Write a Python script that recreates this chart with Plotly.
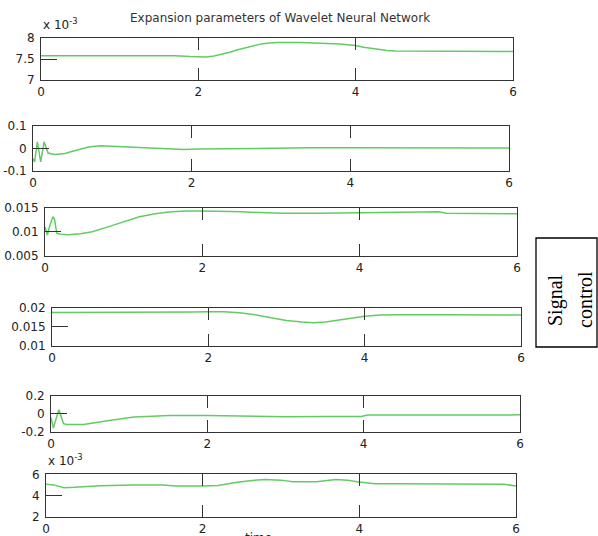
import plotly.graph_objects as go

W, H = 598, 536

# ---------------- data ----------------
t1 = [0, 0.5, 1.0, 1.5, 1.7, 1.9, 2.0, 2.1, 2.2, 2.3, 2.4, 2.5, 2.6, 2.7, 2.8, 2.9, 3.0, 3.3, 3.6, 3.8, 3.9, 4.0, 4.1, 4.2, 4.3, 4.4, 4.5, 5.0, 5.5, 6.0]
v1 = [7.58, 7.58, 7.58, 7.58, 7.58, 7.56, 7.55, 7.55, 7.57, 7.61, 7.66, 7.72, 7.77, 7.82, 7.86, 7.88, 7.89, 7.89, 7.88, 7.86, 7.84, 7.82, 7.78, 7.75, 7.72, 7.70, 7.69, 7.69, 7.69, 7.68]

t2 = [0, 0.02, 0.055, 0.097, 0.14, 0.19, 0.27, 0.4, 0.5, 0.6, 0.7, 0.85, 1.0, 1.3, 1.6, 1.9, 2.1, 2.5, 3.0, 3.5, 4.0, 4.5, 5.0, 5.5, 6.0]
v2 = [-0.045, -0.06, 0.03, -0.06, 0.03, -0.02, -0.027, -0.022, -0.012, -0.002, 0.007, 0.012, 0.01, 0.004, 0.0, -0.004, -0.002, 0.0, 0.002, 0.003, 0.003, 0.002, 0.002, 0.002, 0.002]

t3 = [0, 0.03, 0.06, 0.1, 0.12, 0.15, 0.2, 0.3, 0.45, 0.6, 0.8, 1.0, 1.2, 1.4, 1.6, 1.8, 2.0, 2.5, 3.0, 3.5, 4.0, 4.5, 5.0, 5.1, 5.5, 6.0]
v3 = [0.0110, 0.0093, 0.0112, 0.0131, 0.0126, 0.0097, 0.0095, 0.0094, 0.0096, 0.0100, 0.0110, 0.0121, 0.0131, 0.0137, 0.0141, 0.0143, 0.0143, 0.0141, 0.0138, 0.0138, 0.0139, 0.0141, 0.0141, 0.0138, 0.0137, 0.0137]

t4 = [0, 0.5, 1.0, 1.5, 1.8, 2.0, 2.2, 2.4, 2.6, 2.8, 3.0, 3.2, 3.35, 3.5, 3.7, 3.9, 4.0, 4.2, 4.4, 5.0, 5.5, 6.0]
v4 = [0.0187, 0.0187, 0.0187, 0.0187, 0.0188, 0.0189, 0.0189, 0.0186, 0.0181, 0.0173, 0.0166, 0.0162, 0.0160, 0.0162, 0.0168, 0.0174, 0.0177, 0.0180, 0.0181, 0.0181, 0.0180, 0.0180]

t5 = [0, 0.03, 0.1, 0.16, 0.2, 0.42, 0.7, 1.06, 1.3, 1.5, 2.0, 2.3, 2.6, 3.0, 3.5, 3.97, 4.05, 4.5, 5.0, 5.5, 6.0]
v5 = [-0.04, -0.16, 0.045, -0.11, -0.12, -0.12, -0.08, -0.037, -0.027, -0.02, -0.02, -0.025, -0.033, -0.033, -0.032, -0.03, -0.015, -0.014, -0.014, -0.013, -0.013]

t6 = [0, 0.1, 0.23, 0.36, 0.7, 1.1, 1.5, 1.65, 2.0, 2.2, 2.4, 2.6, 2.8, 3.0, 3.15, 3.45, 3.7, 3.85, 3.97, 4.2, 4.5, 5.0, 5.5, 5.85, 6.0]
v6 = [5.06, 5.0, 4.74, 4.77, 4.93, 5.0, 4.98, 4.9, 4.89, 4.95, 5.2, 5.4, 5.5, 5.45, 5.3, 5.3, 5.5, 5.45, 5.3, 5.1, 5.1, 5.1, 5.1, 5.05, 4.9]

x_ticks = [0, 2, 4, 6]
y_ranges = [[7, 8], [-0.1, 0.1], [0.005, 0.015], [0.01, 0.02], [-0.2, 0.2], [2, 6]]
y_tickvals = [[7, 7.5, 8], [-0.1, 0, 0.1], [0.005, 0.01, 0.015], [0.01, 0.015, 0.02], [-0.2, 0, 0.2], [2, 4, 6]]
y_ticktext = [["7", "7.5", "8"], ["-0.1", "0", "0.1"], ["0.005", "0.01", "0.015"],
              ["0.01", "0.015", "0.02"], ["-0.2", "0", "0.2"], ["2", "4", "6"]]

series_t = [t1, t2, t3, t4, t5, t6]
series_v = [v1, v2, v3, v4, v5, v6]

# panel boxes in pixels: left, right, top, bottom
boxes = [(41, 513, 38, 80), (33, 509, 126, 171), (45, 517, 207.5, 256),
         (52, 521, 307.5, 345.5), (51, 520, 395.7, 431.7), (46, 516, 474.3, 516.7)]

AX = "#333333"
FONT = dict(family="DejaVu Sans, Liberation Sans, Arial", size=12, color="#222222")
GREEN = "#62cc62"

fig = go.Figure()
layout = dict(width=W, height=H, margin=dict(l=0, r=0, t=0, b=0),
              paper_bgcolor="white", plot_bgcolor="white", showlegend=False)

for i in range(6):
    n = "" if i == 0 else str(i + 1)
    l, r, tp, bt = boxes[i]
    fig.add_trace(go.Scatter(x=series_t[i], y=series_v[i], mode="lines",
                             line=dict(color=GREEN, width=1.5),
                             xaxis="x" + n, yaxis="y" + n, hoverinfo="skip"))
    layout["xaxis" + n] = dict(domain=[l / W, r / W], anchor="y" + n, range=[0, 6],
                               tickvals=x_ticks, ticktext=[str(v) for v in x_ticks],
                               showgrid=False, zeroline=False, showline=True, linecolor=AX,
                               linewidth=1, mirror="ticks", ticks="inside", ticklen=12,
                               tickwidth=1.3, tickcolor=AX, tickfont=FONT, automargin=False,
                               ticklabelstandoff=1)
    layout["yaxis" + n] = dict(domain=[1 - bt / H, 1 - tp / H], anchor="x" + n,
                               range=y_ranges[i], tickvals=y_tickvals[i], ticktext=y_ticktext[i],
                               showgrid=False, zeroline=False, showline=True, linecolor=AX,
                               linewidth=1, mirror=True, ticks="inside", ticklen=16,
                               tickwidth=1.3, tickcolor=AX, tickfont=FONT, automargin=False,
                               ticklabelstandoff=3)

annotations = [
    dict(text="Expansion parameters of Wavelet Neural Network", x=280 / W, y=1 - 18 / H,
         xref="paper", yref="paper", showarrow=False, xanchor="center", yanchor="middle",
         font=dict(family="DejaVu Sans, Liberation Sans, Arial", size=12, color="#333333")),
    dict(text="x 10<sup>-3</sup>", x=41 / W, y=1 - 34 / H, xref="paper", yref="paper",
         showarrow=False, xanchor="left", yanchor="bottom", font=FONT),
    dict(text="x 10<sup>-3</sup>", x=46 / W, y=1 - 470 / H, xref="paper", yref="paper",
         showarrow=False, xanchor="left", yanchor="bottom", font=FONT),
    dict(text="time", x=258 / W, y=1 - 529 / H, xref="paper", yref="paper",
         showarrow=False, xanchor="center", yanchor="top", font=FONT),
    dict(text="Signal", x=555 / W, y=1 - 300 / H, xref="paper", yref="paper", textangle=-90,
         showarrow=False, xanchor="center", yanchor="middle",
         font=dict(family="Liberation Serif, Times New Roman", size=20, color="#000000")),
    dict(text="control", x=585 / W, y=1 - 300 / H, xref="paper", yref="paper", textangle=-90,
         showarrow=False, xanchor="center", yanchor="middle",
         font=dict(family="Liberation Serif, Times New Roman", size=20, color="#000000")),
]
layout["annotations"] = annotations
layout["shapes"] = [dict(type="rect", xref="paper", yref="paper",
                         x0=536 / W, x1=597 / W, y0=1 - 347 / H, y1=1 - 238 / H,
                         line=dict(color="#000000", width=1.3))]

fig.update_layout(**layout)
fig.write_html("out.html", config={"displayModeBar": False},
               post_script="document.body.style.margin='0';")
